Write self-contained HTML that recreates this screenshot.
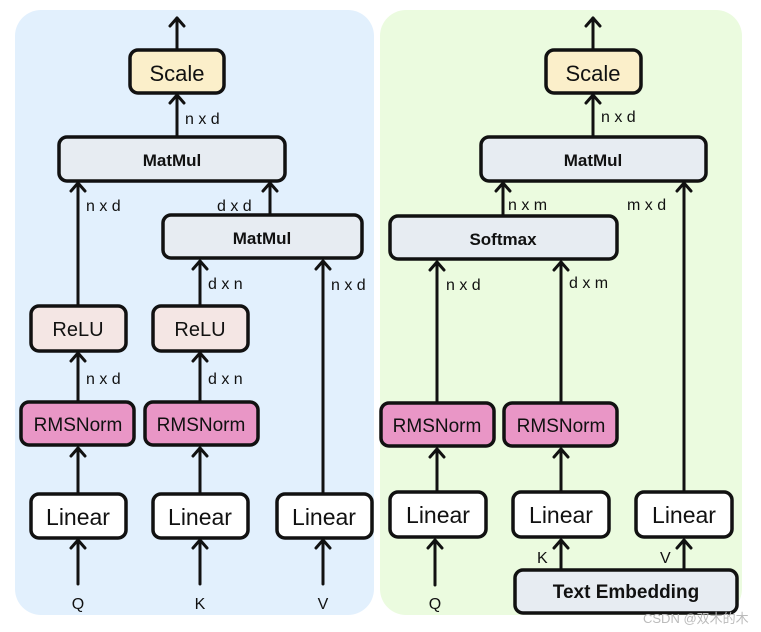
<!DOCTYPE html>
<html><head><meta charset="utf-8"><style>
html,body{margin:0;padding:0;background:#fff;}
svg{display:block;}
text{font-family:"Liberation Sans",sans-serif;fill:#111;}
</style></head><body>
<svg width="761" height="632" viewBox="0 0 761 632" xmlns="http://www.w3.org/2000/svg">
<rect x="15" y="10" width="359" height="605" rx="26" fill="#e2f0fd"/>
<rect x="380" y="10" width="362" height="605" rx="26" fill="#ebfbdf"/>
<g stroke="#111" stroke-width="3" fill="none" stroke-linecap="round" stroke-linejoin="round">
<!-- left lines -->
<line x1="177" y1="50" x2="177" y2="18"/><polyline points="170,26 177,18 184,26"/>
<line x1="177" y1="137" x2="177" y2="95"/><polyline points="170,103 177,95 184,103"/>
<line x1="78" y1="306" x2="78" y2="183"/><polyline points="71,191 78,183 85,191"/>
<line x1="270" y1="215" x2="270" y2="183"/><polyline points="263,191 270,183 277,191"/>
<line x1="200" y1="306" x2="200" y2="261"/><polyline points="193,269 200,261 207,269"/>
<line x1="323" y1="494" x2="323" y2="261"/><polyline points="316,269 323,261 330,269"/>
<line x1="78" y1="402" x2="78" y2="353"/><polyline points="71,361 78,353 85,361"/>
<line x1="200" y1="402" x2="200" y2="353"/><polyline points="193,361 200,353 207,361"/>
<line x1="78" y1="494" x2="78" y2="448"/><polyline points="71,456 78,448 85,456"/>
<line x1="200" y1="494" x2="200" y2="448"/><polyline points="193,456 200,448 207,456"/>
<line x1="78" y1="584" x2="78" y2="540"/><polyline points="71,548 78,540 85,548"/>
<line x1="200" y1="584" x2="200" y2="540"/><polyline points="193,548 200,540 207,548"/>
<line x1="323" y1="584" x2="323" y2="540"/><polyline points="316,548 323,540 330,548"/>
<!-- right lines -->
<line x1="593" y1="50" x2="593" y2="18"/><polyline points="586,26 593,18 600,26"/>
<line x1="593" y1="137" x2="593" y2="95"/><polyline points="586,103 593,95 600,103"/>
<line x1="503" y1="216" x2="503" y2="183"/><polyline points="496,191 503,183 510,191"/>
<line x1="684" y1="492" x2="684" y2="183"/><polyline points="677,191 684,183 691,191"/>
<line x1="437" y1="403" x2="437" y2="262"/><polyline points="430,270 437,262 444,270"/>
<line x1="561" y1="403" x2="561" y2="262"/><polyline points="554,270 561,262 568,270"/>
<line x1="437" y1="492" x2="437" y2="449"/><polyline points="430,457 437,449 444,457"/>
<line x1="561" y1="492" x2="561" y2="449"/><polyline points="554,457 561,449 568,457"/>
<line x1="435" y1="585" x2="435" y2="540"/><polyline points="428,548 435,540 442,548"/>
<line x1="561" y1="570" x2="561" y2="540"/><polyline points="554,548 561,540 568,548"/>
<line x1="684" y1="570" x2="684" y2="540"/><polyline points="677,548 684,540 691,548"/>
</g>
<g stroke="#111" stroke-width="3.5">
<rect x="130" y="50" width="94" height="43" rx="8" fill="#fbefca"/>
<rect x="59" y="137" width="226" height="44" rx="8" fill="#e7ecf2"/>
<rect x="163" y="215" width="199" height="43" rx="8" fill="#e7ecf2"/>
<rect x="31" y="306" width="95" height="45" rx="8" fill="#f4e6e4"/>
<rect x="153" y="306" width="95" height="45" rx="8" fill="#f4e6e4"/>
<rect x="21" y="402" width="113" height="43" rx="8" fill="#e996c6"/>
<rect x="145" y="402" width="113" height="43" rx="8" fill="#e996c6"/>
<rect x="31" y="494" width="95" height="44" rx="8" fill="#fff"/>
<rect x="153" y="494" width="95" height="44" rx="8" fill="#fff"/>
<rect x="277" y="494" width="95" height="44" rx="8" fill="#fff"/>
<rect x="546" y="50" width="95" height="43" rx="8" fill="#fbefca"/>
<rect x="481" y="137" width="225" height="44" rx="8" fill="#e7ecf2"/>
<rect x="390" y="216" width="227" height="43" rx="8" fill="#e7ecf2"/>
<rect x="381" y="403" width="113" height="43" rx="8" fill="#e996c6"/>
<rect x="504" y="403" width="113" height="43" rx="8" fill="#e996c6"/>
<rect x="390" y="492" width="96" height="45" rx="8" fill="#fff"/>
<rect x="513" y="492" width="96" height="45" rx="8" fill="#fff"/>
<rect x="636" y="492" width="96" height="45" rx="8" fill="#fff"/>
<rect x="515" y="570" width="222" height="43" rx="8" fill="#e7ecf2"/>
</g>
<g text-anchor="middle">
<text x="177" y="81" font-size="22">Scale</text>
<text x="172" y="166" font-size="17" font-weight="bold">MatMul</text>
<text x="262" y="244" font-size="17" font-weight="bold">MatMul</text>
<text x="78" y="336" font-size="20">ReLU</text>
<text x="200" y="336" font-size="20">ReLU</text>
<text x="78" y="431" font-size="19">RMSNorm</text>
<text x="201" y="431" font-size="19">RMSNorm</text>
<text x="78" y="525" font-size="23">Linear</text>
<text x="200" y="525" font-size="23">Linear</text>
<text x="324" y="525" font-size="23">Linear</text>
<text x="78" y="609" font-size="16">Q</text>
<text x="200" y="609" font-size="16">K</text>
<text x="323" y="609" font-size="16">V</text>
<text x="593" y="81" font-size="22">Scale</text>
<text x="593" y="166" font-size="17" font-weight="bold">MatMul</text>
<text x="503" y="245" font-size="17" font-weight="bold">Softmax</text>
<text x="437" y="432" font-size="19">RMSNorm</text>
<text x="561" y="432" font-size="19">RMSNorm</text>
<text x="438" y="523" font-size="23">Linear</text>
<text x="561" y="523" font-size="23">Linear</text>
<text x="684" y="523" font-size="23">Linear</text>
<text x="435" y="609" font-size="16">Q</text>
<text x="626" y="598" font-size="19" font-weight="bold">Text Embedding</text>
</g>
<g font-size="16">
<text x="185" y="124">n x d</text>
<text x="86" y="211">n x d</text>
<text x="217" y="211">d x d</text>
<text x="208" y="289">d x n</text>
<text x="331" y="290">n x d</text>
<text x="86" y="384">n x d</text>
<text x="208" y="384">d x n</text>
<text x="601" y="122">n x d</text>
<text x="508" y="210">n x m</text>
<text x="627" y="210">m x d</text>
<text x="446" y="290">n x d</text>
<text x="569" y="288">d x m</text>
<text x="537" y="563">K</text>
<text x="660" y="563">V</text>
</g>
<text x="643" y="623" font-size="13" style="fill:#bbb;font-family:'Liberation Sans','Noto Sans CJK SC',sans-serif">CSDN @双木的木</text>
</svg>
</body></html>
